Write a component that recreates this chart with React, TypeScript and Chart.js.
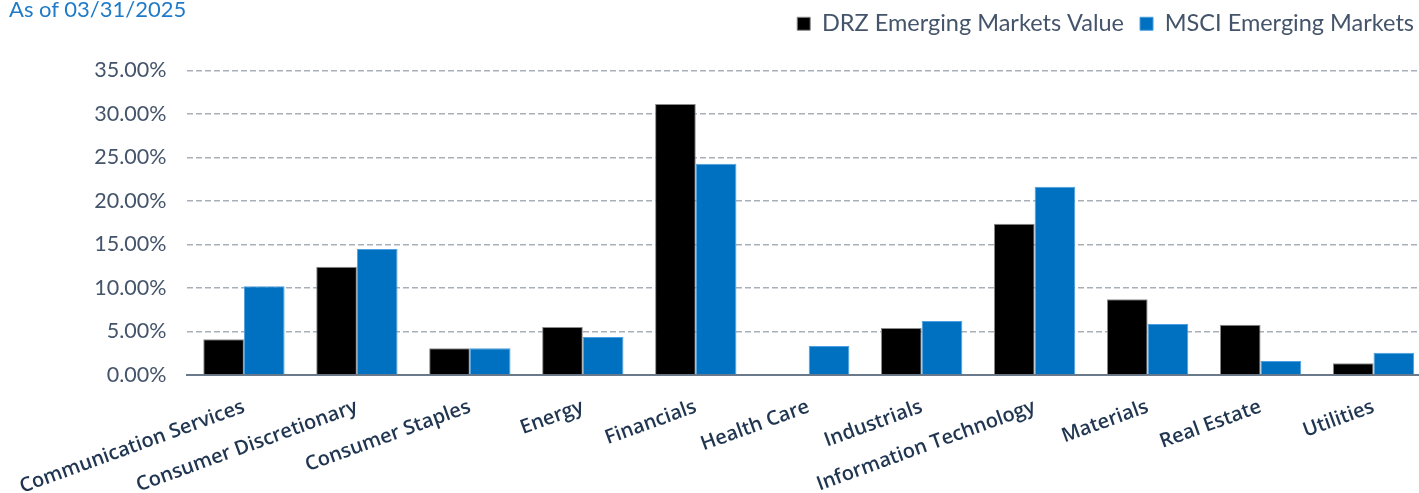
import React, { useEffect, useRef } from "react";
import { Chart, registerables } from "chart.js";

Chart.register(...registerables);

const titleText = "As of 03/31/2025";
const categories = [
  "Communication Services",
  "Consumer Discretionary",
  "Consumer Staples",
  "Energy",
  "Financials",
  "Health Care",
  "Industrials",
  "Information Technology",
  "Materials",
  "Real Estate",
  "Utilities",
];
const seriesNames = ["DRZ Emerging Markets Value", "MSCI Emerging Markets"];
const drzValues = [4.11, 12.43, 3.07, 5.53, 31.16, 0, 5.41, 17.38, 8.71, 5.79, 1.35];
const msciValues = [10.21, 14.47, 3.07, 4.37, 24.29, 3.34, 6.22, 21.64, 5.87, 1.61, 2.57];
const yMin = 0;
const yMax = 35;
const yStep = 5;

const legendSpacer = {
  id: "legendSpacer",
  beforeLayout: (chart: any) => {
    const l = chart.legend;
    if (l && !l.__patched) {
      const orig = l.fit.bind(l);
      l.fit = function () {
        orig();
        this.height += 25;
      };
      l.__patched = true;
    }
  },
};

export default function App() {
  const ref = useRef<HTMLCanvasElement | null>(null);

  useEffect(() => {
    if (!ref.current) return;
    const chart = new Chart(ref.current, {
      type: "bar",
      data: {
        labels: categories,
        datasets: [
          {
            label: seriesNames[0],
            data: drzValues,
            backgroundColor: "#000000",
            borderColor: "#8A8A8A",
            borderWidth: 1,
            categoryPercentage: 0.72,
            barPercentage: 1,
          },
          {
            label: seriesNames[1],
            data: msciValues,
            backgroundColor: "#0070C0",
            borderColor: "#4AA0E0",
            borderWidth: 1,
            categoryPercentage: 0.72,
            barPercentage: 1,
          },
        ],
      },
      options: {
        animation: false,
        responsive: true,
        maintainAspectRatio: false,
        layout: { padding: { top: -4, right: 0, left: 0, bottom: 0 } },
        plugins: {
          tooltip: { enabled: false },
          legend: {
            position: "top",
            align: "end",
            labels: {
              boxWidth: 13,
              boxHeight: 13,
              padding: 16,
              color: "#44546A",
              font: { family: "Lato", size: 23.5 },
            },
          },
        },
        scales: {
          x: {
            grid: { display: false },
            border: { display: true, color: "#6B7A8A", width: 2 },
            ticks: {
              autoSkip: false,
              maxRotation: 20,
              minRotation: 20,
              padding: 12,
              color: "#1F3550",
              font: { family: "Open Sans", size: 20, weight: "600" },
            },
            afterFit: (scale: any) => {
              scale.height = 118;
            },
          },
          y: {
            min: yMin,
            max: yMax,
            border: { display: false, dash: [6, 3] },
            grid: {
              color: "#A9AFB7",
              lineWidth: 1.5,
              drawTicks: false,
            },
            ticks: {
              stepSize: yStep,
              padding: 21,
              color: "#44546A",
              font: { family: "Lato", size: 21.5 },
              callback: (v: any) => Number(v).toFixed(2) + "%",
            },
            afterFit: (scale: any) => {
              scale.width = 187;
            },
          },
        },
      },
      plugins: [legendSpacer],
    });
    return () => chart.destroy();
  }, []);

  return (
    <div
      style={{
        position: "fixed",
        left: 0,
        top: 0,
        width: 1419,
        height: 493,
        overflow: "hidden",
        background: "#ffffff",
      }}
    >
      <div style={{ position: "absolute", left: 0, top: 0, width: 1430, height: 493 }}>
        <canvas ref={ref} />
      </div>
      <div
        style={{
          position: "absolute",
          left: 9,
          top: -5,
          fontFamily: "Lato",
          fontSize: 22,
          color: "#1F7BC8",
          whiteSpace: "nowrap",
        }}
      >
        {titleText}
      </div>
    </div>
  );
}
